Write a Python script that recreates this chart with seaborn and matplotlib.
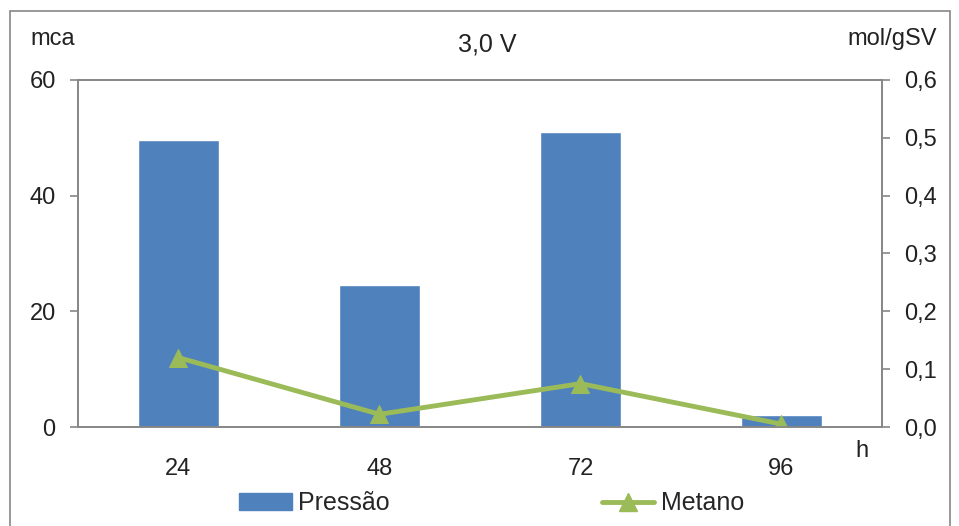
import numpy as np
import pandas as pd
import matplotlib.pyplot as plt
import matplotlib.patches as mpatches
from matplotlib.lines import Line2D
import seaborn as sns

# Dados (3,0 V)
horas = ["24", "48", "72", "96"]
pressao = [49.7, 24.6, 51.0, 2.0]       # mca
metano = [0.120, 0.022, 0.075, 0.005]   # mol/gSV

df = pd.DataFrame({"h": horas, "Pressao": pressao, "Metano": metano})

azul = "#4F81BD"
verde = "#9BBB59"
cinza = "#868686"
texto = "#222222"

sns.set_style("white")
plt.rcParams["font.family"] = ["Liberation Sans", "DejaVu Sans"]

fig = plt.figure(figsize=(9.59, 5.26), dpi=100)
ax = fig.add_axes([0.0813, 0.1882, 0.8384, 0.6598])

sns.barplot(data=df, x="h", y="Pressao", color=azul, saturation=1, width=0.4, ax=ax)
ax.set_ylim(0, 60)
ax.set_xlim(-0.5, 3.5)
ax.set_yticks([0, 20, 40, 60])
ax.set_xlabel("")
ax.set_ylabel("")

ax2 = ax.twinx()
sns.lineplot(x=np.arange(len(horas)), y=df["Metano"], color=verde, linewidth=3.5,
             marker="^", markersize=13, markeredgecolor=verde, ax=ax2)
ax2.set_ylim(0, 0.6)
ax2.set_yticks(np.arange(0, 0.61, 0.1))
ax2.set_yticklabels([f"{v:.1f}".replace(".", ",") for v in np.arange(0, 0.61, 0.1)])
ax2.set_ylabel("")
ax2.set_xlim(-0.5, 3.5)

for a in (ax, ax2):
    for s in a.spines.values():
        s.set_color(cinza)
        s.set_linewidth(1.2)
    a.tick_params(axis="both", labelsize=17, colors=texto, length=6, width=1.2)
    a.tick_params(axis="both", color=cinza)
ax.tick_params(axis="y", pad=10)
ax2.tick_params(axis="y", pad=10)

# ticks do eixo x nas fronteiras das categorias
ax.set_xticks(np.arange(len(horas)))
ax.set_xticklabels(horas)
ax.tick_params(axis="x", length=0, pad=22)
ax.set_xticks(np.arange(-0.5, len(horas), 1), minor=True)
ax.tick_params(axis="x", which="minor", length=6, color=cinza, width=1.2)

fig.text(0.508, 0.915, "3,0 V", ha="center", va="center", fontsize=18, color=texto)
fig.text(0.055, 0.925, "mca", ha="center", va="center", fontsize=17, color=texto)
fig.text(0.930, 0.925, "mol/gSV", ha="center", va="center", fontsize=17, color=texto)
fig.text(0.899, 0.143, "h", ha="center", va="center", fontsize=17, color=texto)

handles = [mpatches.Patch(color=azul, label="Pressão"),
           Line2D([0], [0], color=verde, linewidth=3.5, marker="^", markersize=13, label="Metano")]
fig.legend(handles=handles, loc="center", bbox_to_anchor=(0.5125, 0.043), ncol=2, frameon=False,
           fontsize=18, columnspacing=8.5, handlelength=2.1, handletextpad=0.25)

# moldura externa
fig.patches.append(mpatches.Rectangle((0.0105, -0.01), 0.98, 0.99, transform=fig.transFigure,
                                      fill=False, edgecolor=cinza, linewidth=1.2))

fig.savefig("out.png", dpi=100)
